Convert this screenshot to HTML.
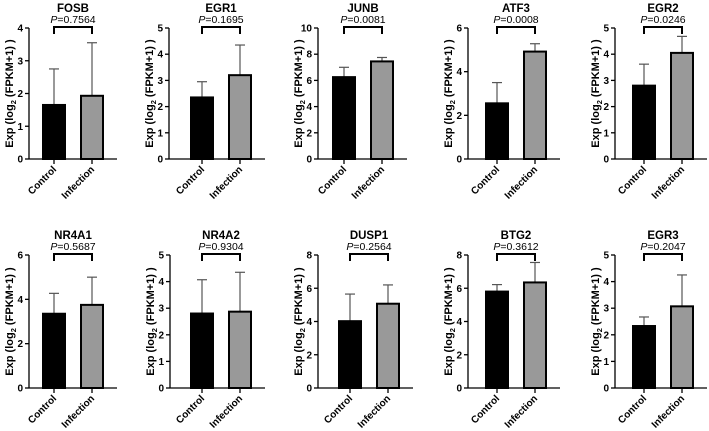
<!DOCTYPE html>
<html><head><meta charset="utf-8"><style>
html,body{margin:0;padding:0;background:#fff}
svg{display:block}
text{font-family:"Liberation Sans","Noto Sans CJK SC",sans-serif}
</style></head><body>
<svg id="c" width="709" height="431" viewBox="0 0 709 431" xmlns="http://www.w3.org/2000/svg"></svg>
<script>
const genes = ["FOSB","EGR1","JUNB","ATF3","EGR2","NR4A1","NR4A2","DUSP1","BTG2","EGR3"];
const pvalues = ["0.7564","0.1695","0.0081","0.0008","0.0246","0.5687","0.9304","0.2564","0.3612","0.2047"];
const controlMean = [1.65,2.35,6.25,2.55,2.8,3.35,2.8,4.02,5.8,2.33];
const controlErr = [2.75,2.95,7.0,3.5,3.62,4.27,4.07,5.65,6.22,2.67];
const infectionMean = [1.93,3.2,7.45,4.92,4.05,3.75,2.87,5.07,6.35,3.07];
const infectionErr = [3.55,4.35,7.75,5.28,4.68,5.0,4.35,6.2,7.55,4.25];
const yMax = [4,5,10,6,5,6,5,8,8,5];
const yStep = [1,1,2,2,1,2,1,2,2,1];
const groups = ["Control","Infection"];

const axisX = [29,169,318,468,615,29,170,318,468,615];
const ctrlOff = [13,21,14,17,17,13,20,20,17,17];
const NS="http://www.w3.org/2000/svg";
const svg=document.getElementById('c');
function mk(tag,attrs,parent,txt){const e=document.createElementNS(NS,tag);for(const k in attrs)e.setAttribute(k,attrs[k]);if(txt!==undefined)e.textContent=txt;(parent||svg).appendChild(e);return e;}

genes.forEach((g,i)=>{
  const row=i<5?0:1;
  const top=row?255:28, bottom=row?388:159;
  const ax=axisX[i];
  const bw=24, gap=14;
  const c1=ax+ctrlOff[i]+bw/2, c2=c1+bw+gap;
  const xEnd=c2+bw/2+13;
  const y=v=>bottom-(v/yMax[i])*(bottom-top);
  const grp=mk('g',{});
  
  
  const cx=(c1+c2)/2;
  const t=mk('text',{x:cx,y:top-16,'text-anchor':'middle','font-size':'11.5','font-weight':'bold'},grp,g);
  
  
  const p=mk('text',{x:cx,y:top-5,'text-anchor':'middle','font-size':'10.5'},grp);
  
  
  mk('tspan',{'font-style':'italic'},p,'P');
  mk('tspan',{},p,'='+pvalues[i]);
  const br=mk('path',{d:`M${c1},${top+6}V${top-1}H${c2}V${top+6}`,fill:'none',stroke:'#000','stroke-width':'2'},grp);
  
  
  const ya=mk('line',{x1:ax,y1:top,x2:ax,y2:bottom,stroke:'#000','stroke-width':'1.3'},grp);
  
  
  for(let v=0;v<=yMax[i]+1e-9;v+=yStep[i]){
    mk('line',{x1:ax-4,y1:y(v),x2:ax,y2:y(v),stroke:'#000','stroke-width':'1.3'},grp);
    const tl=mk('text',{x:ax-6,y:y(v)+3.5,'text-anchor':'end','font-size':'10','font-weight':'bold'},grp,String(v));
    
    
  }
  const yl=mk('text',{x:0,y:0,transform:`translate(${ax-16},${(top+bottom)/2}) rotate(-90)`,'text-anchor':'middle','font-size':'11','font-weight':'bold'},grp);
  
  
  mk('tspan',{},yl,'Exp (log');
  mk('tspan',{'font-size':'7.5',dy:'3'},yl,'2');
  mk('tspan',{dy:'-3'},yl,' (FPKM+1) )');
  [[c1,controlMean[i],controlErr[i],'#000'],[c2,infectionMean[i],infectionErr[i],'#999']].forEach((b,j)=>{
    const el=mk('line',{x1:b[0],y1:y(b[1]),x2:b[0],y2:y(b[2]),stroke:'#555','stroke-width':'1.2'},grp);
    
    
    mk('line',{x1:b[0]-5,y1:y(b[2]),x2:b[0]+5,y2:y(b[2]),stroke:'#555','stroke-width':'1.2'},grp);
    const r=mk('rect',{x:b[0]-bw/2+1,y:y(b[1]),width:bw-2,height:bottom-y(b[1]),fill:b[3],stroke:'#000','stroke-width':'2'},grp);
    
    
    mk('line',{x1:b[0],y1:bottom,x2:b[0],y2:bottom+5,stroke:'#000','stroke-width':'1.3'},grp);
    const xl=mk('text',{x:0,y:0,transform:`translate(${b[0]+3},${bottom+11}) rotate(-45)`,'text-anchor':'end','font-size':'10','font-weight':'bold'},grp,groups[j]);
    
    
  });
  const xa=mk('line',{x1:ax,y1:bottom,x2:xEnd,y2:bottom,stroke:'#000','stroke-width':'1.3'},grp);
  
  
});
</script>
</body></html>
